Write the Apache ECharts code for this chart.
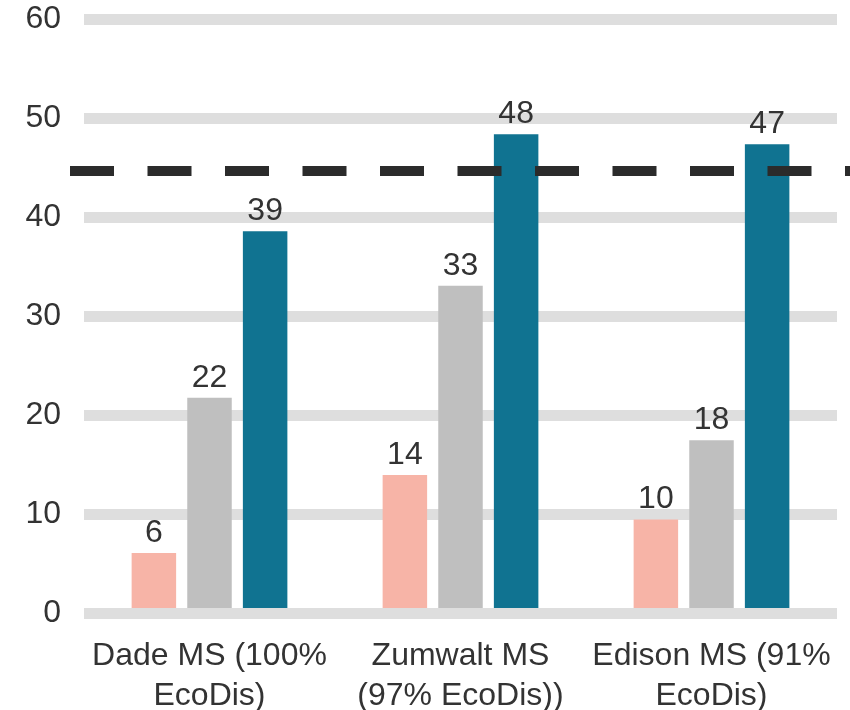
<!DOCTYPE html>
<html>
<head>
<meta charset="utf-8">
<script src="https://cdn.jsdelivr.net/npm/echarts@6/dist/echarts.min.js"></script>
<style>
  html,body{margin:0;padding:0;background:#fff;}
  #chart_wrap{width:850px;height:710px;}
</style>
</head>
<body>
<div id="chart_wrap"></div>
<script>
var categories=['Dade MS (100%\nEcoDis)','Zumwalt MS\n(97% EcoDis))','Edison MS (91%\nEcoDis)'];
var seriesA=[6.1,14.0,9.5];
var seriesB=[21.8,33.1,17.5];
var seriesC=[38.6,48.4,47.4];
var targetValue=44.7;
var yTicks=[0,10,20,30,40,50,60];

var textColor='#333333';
var fontFam="'Liberation Sans', Arial, sans-serif";

var barLabel={
  show:true,
  position:'top',
  distance:4,
  fontSize:32,
  fontFamily:fontFam,
  color:textColor,
  formatter:function(p){ return Math.round(p.value); }
};

var makeBar=function(data,color){
  return {
    type:'bar',
    data:data,
    barWidth:44.5,
    barGap:'25%',
    itemStyle:{color:color},
    label:barLabel,
    z:2
  };
};

var chart=echarts.init(document.getElementById('chart_wrap'));
var option={
  animation:false,
  backgroundColor:'#fff',
  grid:[
    {left:84,right:13,top:19.5,bottom:96.5,outerBoundsMode:'none',containLabel:false},
    {left:70,right:0,top:19.5,bottom:96.5,outerBoundsMode:'none',containLabel:false}
  ],
  xAxis:[
    {
      type:'category',
      gridIndex:0,
      data:categories,
      z:3,
      axisLine:{show:true,lineStyle:{color:'#dedede',width:11,cap:'butt'}},
      axisTick:{show:false},
      splitLine:{show:false},
      axisLabel:{
        fontSize:32,
        lineHeight:40,
        margin:23,
        color:textColor,
        fontFamily:fontFam,
        interval:0
      }
    },
    {type:'value',gridIndex:1,min:0,max:1,show:false}
  ],
  yAxis:[
    {
      type:'value',
      gridIndex:0,
      min:yTicks[0],
      max:yTicks[yTicks.length-1],
      interval:10,
      axisLine:{show:false},
      axisTick:{show:false},
      splitLine:{lineStyle:{color:'#dedede',width:11}},
      axisLabel:{
        fontSize:32,
        margin:23,
        verticalAlign:'middle',
        padding:[10,0,0,0],
        color:textColor,
        fontFamily:fontFam
      }
    },
    {type:'value',gridIndex:1,min:0,max:60,show:false}
  ],
  series:[
    makeBar(seriesA,'#f7b4a7'),
    makeBar(seriesB,'#bfbfbf'),
    makeBar(seriesC,'#107391'),
    {
      type:'line',
      xAxisIndex:1,
      yAxisIndex:1,
      data:[[0,targetValue],[1,targetValue]],
      symbol:'none',
      clip:false,
      lineStyle:{color:'#2b2b2b',width:10,type:[44,33.5],cap:'butt'},
      z:5
    }
  ]
};
chart.setOption(option);
</script>
</body>
</html>
